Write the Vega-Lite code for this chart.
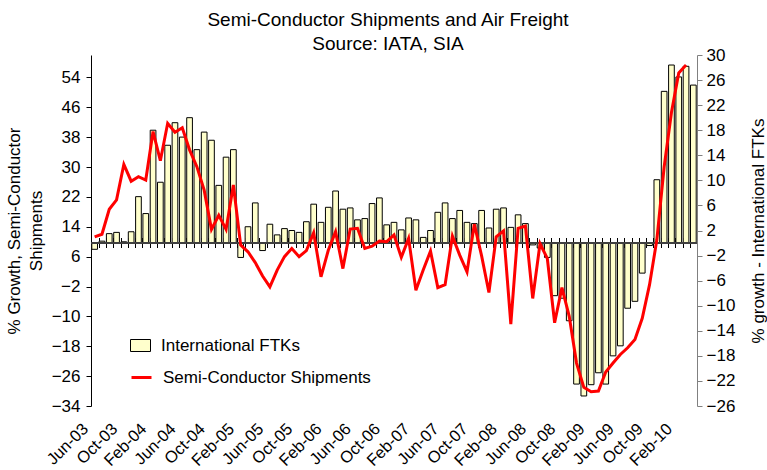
{
  "$schema": "https://vega.github.io/schema/vega-lite/v6.json",
  "width": 606,
  "height": 351,
  "autosize": {"type": "none"},
  "padding": {"left": 91, "top": 55, "right": 70, "bottom": 64},
  "background": "white",
  "config": {
    "font": "Liberation Sans",
    "view": {"stroke": null},
    "axis": {"grid": false, "labelColor": "#000", "labelFontSize": 17, "titleColor": "#000", "titleFontSize": 17, "titleFontWeight": "normal", "domainColor": "#000", "tickColor": "#000"},
    "axisY": {"labelOverlap": false},
    "legend": {"labelColor": "#000", "labelFontSize": 17, "labelLimit": 400}
  },
  "title": {
    "text": ["Semi-Conductor Shipments and Air Freight", "Source: IATA, SIA"],
    "fontSize": 19,
    "fontWeight": "normal",
    "lineHeight": 24,
    "anchor": "middle",
    "color": "#000",
    "offset": -8,
    "dx": -6
  },
  "data": {
    "values": [
      {"m": "Jun-03", "ftk": -1.0, "semi": 11.3},
      {"m": "Jul-03", "ftk": 0.3, "semi": 12.0},
      {"m": "Aug-03", "ftk": 1.5, "semi": 18.7},
      {"m": "Sep-03", "ftk": 1.7, "semi": 21.2},
      {"m": "Oct-03", "ftk": 0.2, "semi": 30.7},
      {"m": "Nov-03", "ftk": 1.8, "semi": 26.2},
      {"m": "Dec-03", "ftk": 7.4, "semi": 27.4},
      {"m": "Jan-04", "ftk": 4.7, "semi": 26.5},
      {"m": "Feb-04", "ftk": 18.0, "semi": 39.5},
      {"m": "Mar-04", "ftk": 9.7, "semi": 31.7},
      {"m": "Apr-04", "ftk": 15.6, "semi": 41.7},
      {"m": "May-04", "ftk": 19.2, "semi": 39.3},
      {"m": "Jun-04", "ftk": 16.9, "semi": 40.5},
      {"m": "Jul-04", "ftk": 20.0, "semi": 34.6},
      {"m": "Aug-04", "ftk": 14.9, "semi": 30.1},
      {"m": "Sep-04", "ftk": 17.7, "semi": 23.8},
      {"m": "Oct-04", "ftk": 16.4, "semi": 13.3},
      {"m": "Nov-04", "ftk": 9.2, "semi": 17.1},
      {"m": "Dec-04", "ftk": 13.7, "semi": 13.3},
      {"m": "Jan-05", "ftk": 14.9, "semi": 25.2},
      {"m": "Feb-05", "ftk": -2.3, "semi": 9.1},
      {"m": "Mar-05", "ftk": 2.6, "semi": 7.3},
      {"m": "Apr-05", "ftk": 6.4, "semi": 4.4},
      {"m": "May-05", "ftk": -1.2, "semi": 0.8},
      {"m": "Jun-05", "ftk": 3.0, "semi": -2.1},
      {"m": "Jul-05", "ftk": 1.3, "semi": 2.4},
      {"m": "Aug-05", "ftk": 2.3, "semi": 6.0},
      {"m": "Sep-05", "ftk": 2.0, "semi": 8.2},
      {"m": "Oct-05", "ftk": 1.7, "semi": 6.0},
      {"m": "Nov-05", "ftk": 3.4, "semi": 7.6},
      {"m": "Dec-05", "ftk": 6.2, "semi": 12.4},
      {"m": "Jan-06", "ftk": 3.3, "semi": 0.6},
      {"m": "Feb-06", "ftk": 5.7, "semi": 7.7},
      {"m": "Mar-06", "ftk": 8.3, "semi": 12.7},
      {"m": "Apr-06", "ftk": 5.4, "semi": 2.8},
      {"m": "May-06", "ftk": 5.6, "semi": 13.4},
      {"m": "Jun-06", "ftk": 3.7, "semi": 13.6},
      {"m": "Jul-06", "ftk": 3.9, "semi": 8.2},
      {"m": "Aug-06", "ftk": 6.3, "semi": 8.8},
      {"m": "Sep-06", "ftk": 7.2, "semi": 10.2},
      {"m": "Oct-06", "ftk": 2.9, "semi": 10.0},
      {"m": "Nov-06", "ftk": 3.3, "semi": 11.8},
      {"m": "Dec-06", "ftk": 2.1, "semi": 5.8},
      {"m": "Jan-07", "ftk": 4.0, "semi": 10.9},
      {"m": "Feb-07", "ftk": 3.7, "semi": -3.0},
      {"m": "Mar-07", "ftk": 0.9, "semi": 2.4},
      {"m": "Apr-07", "ftk": 2.0, "semi": 7.5},
      {"m": "May-07", "ftk": 4.9, "semi": -2.3},
      {"m": "Jun-07", "ftk": 6.4, "semi": -1.5},
      {"m": "Jul-07", "ftk": 3.9, "semi": 11.5},
      {"m": "Aug-07", "ftk": 5.2, "semi": 6.4},
      {"m": "Sep-07", "ftk": 3.3, "semi": 1.9},
      {"m": "Oct-07", "ftk": 3.1, "semi": 14.7},
      {"m": "Nov-07", "ftk": 5.2, "semi": 6.2},
      {"m": "Dec-07", "ftk": 2.4, "semi": -3.6},
      {"m": "Jan-08", "ftk": 5.4, "semi": 11.3},
      {"m": "Feb-08", "ftk": 5.6, "semi": 12.9},
      {"m": "Mar-08", "ftk": 2.5, "semi": -12.1},
      {"m": "Apr-08", "ftk": 4.5, "semi": 13.6},
      {"m": "May-08", "ftk": 3.1, "semi": 14.2},
      {"m": "Jun-08", "ftk": -0.3, "semi": -5.2},
      {"m": "Jul-08", "ftk": -0.8, "semi": 9.5},
      {"m": "Aug-08", "ftk": -2.3, "semi": 5.5},
      {"m": "Sep-08", "ftk": -8.4, "semi": -11.7},
      {"m": "Oct-08", "ftk": -8.8, "semi": -2.3},
      {"m": "Nov-08", "ftk": -12.4, "semi": -10.0},
      {"m": "Dec-08", "ftk": -22.5, "semi": -22.5},
      {"m": "Jan-09", "ftk": -24.4, "semi": -29.0},
      {"m": "Feb-09", "ftk": -22.6, "semi": -30.2},
      {"m": "Mar-09", "ftk": -20.7, "semi": -30.0},
      {"m": "Apr-09", "ftk": -22.5, "semi": -24.9},
      {"m": "May-09", "ftk": -18.0, "semi": -22.5},
      {"m": "Jun-09", "ftk": -16.4, "semi": -20.2},
      {"m": "Jul-09", "ftk": -10.4, "semi": -18.4},
      {"m": "Aug-09", "ftk": -9.3, "semi": -16.2},
      {"m": "Sep-09", "ftk": -4.8, "semi": -10.5},
      {"m": "Oct-09", "ftk": -0.4, "semi": -1.5},
      {"m": "Nov-09", "ftk": 10.1, "semi": 10.5},
      {"m": "Dec-09", "ftk": 24.2, "semi": 30.0},
      {"m": "Jan-10", "ftk": 28.4, "semi": 44.6},
      {"m": "Feb-10", "ftk": 26.5, "semi": 55.2},
      {"m": "Mar-10", "ftk": 28.2, "semi": 57.3},
      {"m": "Apr-10", "ftk": 25.2, "semi": null}
    ]
  },
  "layer": [
    {
      "layer": [
        {
          "mark": {"type": "bar", "stroke": "#000", "strokeWidth": 1},
          "encoding": {
            "x": {
              "field": "m",
              "type": "ordinal",
              "sort": null,
              "scale": {"paddingInner": 0.22, "paddingOuter": 0.11},
              "axis": {
                "orient": "bottom",
                "title": null,
                "domain": false,
                "ticks": false,
                "tickSize": 0,
                "values": ["Jun-03", "Oct-03", "Feb-04", "Jun-04", "Oct-04", "Feb-05", "Jun-05", "Oct-05", "Feb-06", "Jun-06", "Oct-06", "Feb-07", "Jun-07", "Oct-07", "Feb-08", "Jun-08", "Oct-08", "Feb-09", "Jun-09", "Oct-09", "Feb-10"],
                "labelAngle": -45,
                "labelAlign": "right",
                "labelBaseline": "middle",
                "labelPadding": 20,
                "labelOffset": -9,
                "labelFontSize": 16.5
              }
            },
            "y": {
              "field": "ftk",
              "type": "quantitative",
              "scale": {"domain": [-26, 30], "nice": false, "zero": false},
              "axis": {
                "orient": "right",
                "values": [-26, -22, -18, -14, -10, -6, -2, 2, 6, 10, 14, 18, 22, 26, 30],
                "labelOverlap": false,
                "tickCount": 15,
                "tickSize": 5,
                "labelPadding": 4,
                "domainColor": "#808080",
                "tickColor": "#808080",
                "title": "% growth - International FTKs",
                "titleAngle": 270,
                "titleBaseline": "top",
                "titlePadding": 16
              }
            },
            "fill": {
              "datum": "International FTKs",
              "type": "nominal",
              "scale": {"range": ["#FFFFCC"]},
              "legend": {
                "orient": "none",
                "legendX": 39,
                "legendY": 280,
                "title": null,
                "padding": 0,
                "symbolType": "M-1,-0.6L1,-0.6L1,0.6L-1,0.6Z",
                "symbolSize": 400,
                "symbolStrokeColor": "#000",
                "symbolStrokeWidth": 1,
                "labelOffset": 10
              }
            }
          }
        },
        {
          "mark": {"type": "rule", "color": "#404040", "strokeWidth": 2},
          "encoding": {"y": {"datum": 0, "type": "quantitative"}}
        }
      ]
    },
    {
      "mark": {"type": "line", "strokeWidth": 3},
      "encoding": {
        "x": {
          "field": "m",
          "type": "ordinal",
          "sort": null,
          "axis": {
            "orient": "top",
            "offset": -192.5,
            "title": null,
            "domain": false,
            "labels": false,
            "ticks": true,
            "tickSize": 10,
            "bandPosition": 0,
            "tickColor": "#000"
          }
        },
        "y": {
          "field": "semi",
          "type": "quantitative",
          "scale": {"domain": [-34, 60], "nice": false, "zero": false},
          "axis": {
            "orient": "left",
            "values": [-34, -26, -18, -10, -2, 6, 14, 22, 30, 38, 46, 54],
            "labelOverlap": false,
            "tickSize": 5,
            "labelPadding": 6,
            "title": ["% Growth, Semi-Conductor", "Shipments"],
            "titleLineHeight": 22,
            "titlePadding": 6
          }
        },
        "stroke": {
          "datum": "Semi-Conductor Shipments",
          "type": "nominal",
          "scale": {"range": ["#FF0000"]},
          "legend": {
            "orient": "none",
            "legendX": 39,
            "legendY": 311,
            "title": null,
            "padding": 0,
            "symbolType": "stroke",
            "symbolSize": 400,
            "symbolStrokeWidth": 3,
            "labelOffset": 10
          }
        }
      }
    }
  ],
  "resolve": {"scale": {"y": "independent"}, "axis": {"x": "independent"}}
}
